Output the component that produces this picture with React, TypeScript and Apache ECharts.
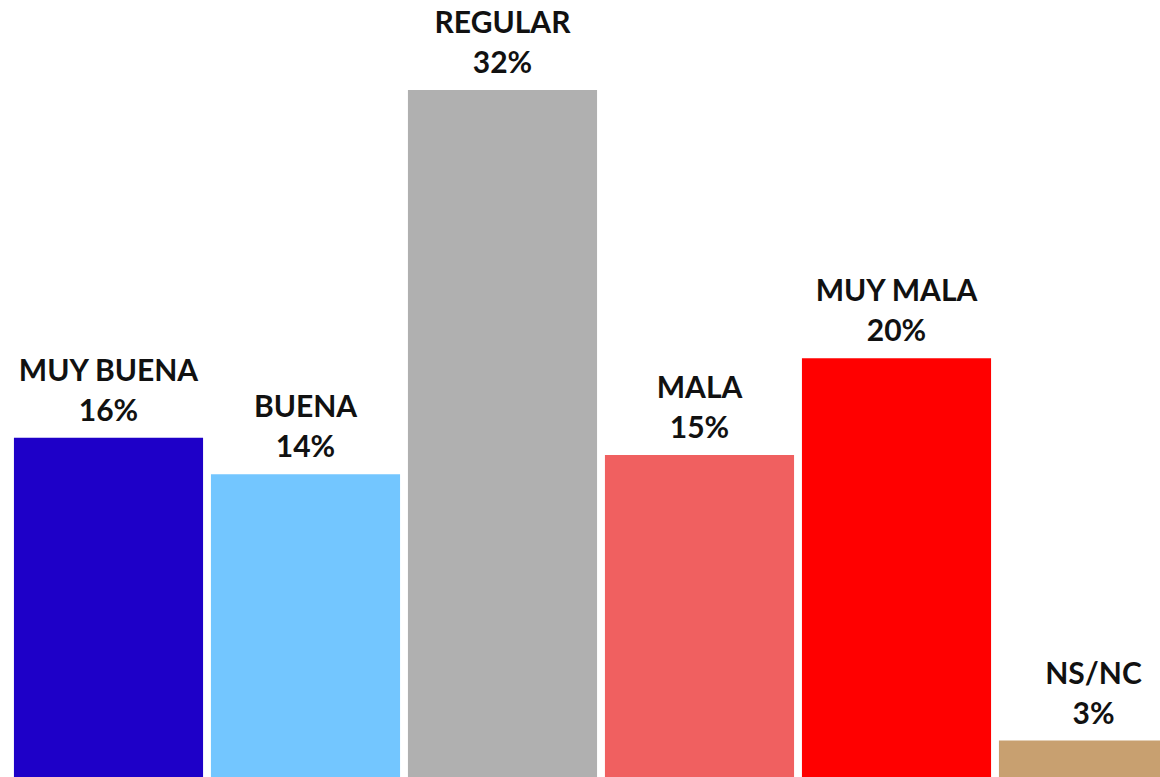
import React, { useEffect, useRef } from "react";
import * as echarts from "echarts";

const categories = ["MUY BUENA", "BUENA", "REGULAR", "MALA", "MUY MALA", "NS/NC"];
const barValues = [15.8, 14.1, 32.0, 15.0, 19.5, 1.7];
const percentLabels = ["16%", "14%", "32%", "15%", "20%", "3%"];
const colors = ["#1e00c8", "#73c6ff", "#b0b0b0", "#f06060", "#ff0000", "#c8a070"];

export default function App() {
  const ref = useRef<HTMLDivElement>(null);
  useEffect(() => {
    document.body.style.margin = "0";
    const chart = echarts.init(ref.current!, null, { renderer: "svg" });
    chart.setOption({
      animation: false,
      backgroundColor: "#ffffff",
      grid: { left: 10, top: 90, right: 0, bottom: 0, containLabel: false },
      xAxis: {
        type: "category",
        data: categories,
        show: false,
      },
      yAxis: { type: "value", min: 0, max: 32, show: false },
      series: [
        {
          type: "bar",
          barCategoryGap: "4%",
          data: barValues.map((v, i) => ({ value: v, itemStyle: { color: colors[i] } })),
          label: {
            show: true,
            position: "top",
            distance: 9,
            formatter: (p: any) => `${categories[p.dataIndex]}\n${percentLabels[p.dataIndex]}`,
            fontFamily: "Lato",
            fontWeight: "bold",
            fontSize: 30,
            lineHeight: 40,
            color: "#111111",
            align: "center",
          },
        },
      ],
    });
    return () => chart.dispose();
  }, []);
  return (
    <div
      style={{
        position: "absolute",
        left: 0,
        top: 0,
        width: 1160,
        height: 777,
        overflow: "hidden",
        background: "#ffffff",
      }}
    >
      <div ref={ref} style={{ width: 1192, height: 777 }} />
    </div>
  );
}
